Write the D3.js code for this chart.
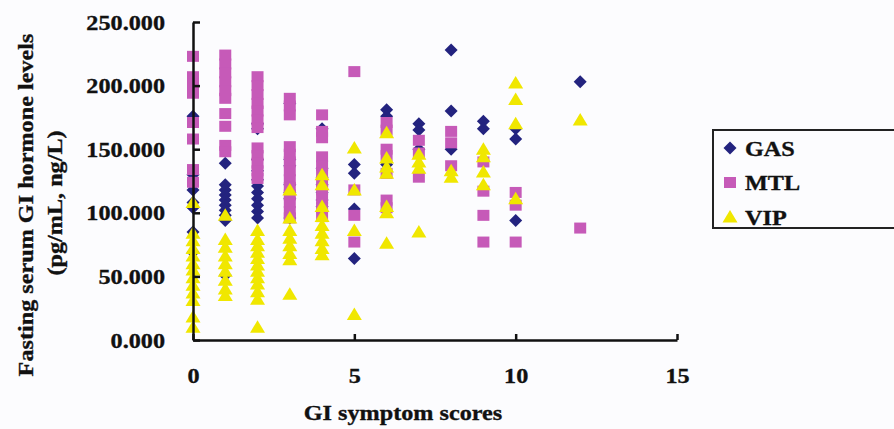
<!DOCTYPE html>
<html>
<head>
<meta charset="utf-8">
<script src="https://cdn.jsdelivr.net/npm/d3@7"></script>
<style>
    body { margin: 0; background: #fcfcfe; }
    text { font-family: "Liberation Serif", "Times New Roman", serif; font-weight: bold; fill: #111; stroke: #111; stroke-width: 0.35px; }
</style>
</head>
<body>
<div id="chart"></div>
<script>
// score / value pairs
let gasData = [
    [0, 176], [0, 130], [0, 118], [0, 108], [0, 104], [0, 85], [0, 69],
    [1, 139], [1, 122], [1, 118], [1, 114], [1, 110], [1, 106], [1, 102], [1, 98], [1, 94], [1, 51],
    [2, 170], [2, 166], [2, 142], [2, 133], [2, 126], [2, 121], [2, 116], [2, 111], [2, 106], [2, 101], [2, 96],
    [3, 186], [3, 142], [3, 137], [3, 122], [3, 116], [3, 111], [3, 96],
    [4, 166], [4, 135], [4, 128], [4, 122], [4, 116], [4, 110], [4, 105],
    [5, 138], [5, 131], [5, 103], [5, 64],
    [6, 181], [6, 176], [6, 138],
    [7, 170], [7, 165], [7, 150],
    [8, 228], [8, 180], [8, 150],
    [9, 172], [9, 166],
    [10, 166], [10, 158], [10, 94],
    [12, 203]
];

let mtlData = [
    [0, 223], [0, 207], [0, 201], [0, 194], [0, 171], [0, 158], [0, 134], [0, 124],
    [1, 224], [1, 217], [1, 210], [1, 203], [1, 196], [1, 190], [1, 178], [1, 168], [1, 153], [1, 148],
    [2, 207], [2, 200], [2, 193], [2, 186], [2, 180], [2, 173], [2, 167], [2, 151], [2, 145], [2, 139], [2, 133], [2, 127],
    [3, 190], [3, 184], [3, 177], [3, 152], [3, 146], [3, 140], [3, 133], [3, 126], [3, 120], [3, 114], [3, 108], [3, 101], [3, 96],
    [4, 177], [4, 164], [4, 159], [4, 144], [4, 137], [4, 131], [4, 124], [4, 118], [4, 111], [4, 104], [4, 97],
    [5, 211], [5, 118], [5, 98], [5, 77],
    [6, 171], [6, 165], [6, 150], [6, 145], [6, 131], [6, 110], [6, 104],
    [7, 157], [7, 147], [7, 128],
    [8, 164], [8, 155], [8, 137],
    [9, 140], [9, 117], [9, 98], [9, 77],
    [10, 116], [10, 106], [10, 77],
    [12, 88]
];

let vipData = [
    [0, 108], [0, 84], [0, 78], [0, 72], [0, 66], [0, 60], [0, 55], [0, 49], [0, 43], [0, 37], [0, 31], [0, 18], [0, 10],
    [1, 98], [1, 79], [1, 73], [1, 66], [1, 60], [1, 54], [1, 47], [1, 40], [1, 35],
    [2, 86], [2, 79], [2, 74], [2, 69], [2, 64], [2, 59], [2, 54], [2, 49], [2, 44], [2, 38], [2, 32], [2, 10],
    [3, 118], [3, 96], [3, 86], [3, 80], [3, 74], [3, 68], [3, 63], [3, 36],
    [4, 130], [4, 122], [4, 105], [4, 97], [4, 90], [4, 84], [4, 78], [4, 72], [4, 67],
    [5, 151], [5, 118], [5, 86], [5, 20],
    [6, 163], [6, 143], [6, 136], [6, 131], [6, 105], [6, 100], [6, 76],
    [7, 146], [7, 140], [7, 135], [7, 85],
    [8, 133], [8, 128],
    [9, 150], [9, 144], [9, 132], [9, 122],
    [10, 202], [10, 189], [10, 170], [10, 111],
    [12, 173]
];

let xTicks = [0, 5, 10, 15];
let yTicks = [0, 50, 100, 150, 200, 250];
let seriesNames = ["GAS", "MTL", "VIP"];

let colors = {GAS: "#23237f", MTL: "#c65ab8", VIP: "#f0e700"};

let width = 894, height = 429;

let svg = d3.select("#chart").append("svg")
    .attr("width", width)
    .attr("height", height);

let xScale = d3.scaleLinear().domain([0, 15]).range([193, 677]);
let yScale = d3.scaleLinear().domain([0, 250]).range([340, 22]);

// marker shapes
function markerPath(name) {
    if (name === "GAS") return "M0,-6.5L6.5,0L0,6.5L-6.5,0Z";
    if (name === "MTL") return "M-6,-5.5L6,-5.5L6,5.5L-6,5.5Z";
    return "M0,-7L7.5,5.5L-7.5,5.5Z";
}

let allSeries = [["GAS", gasData], ["MTL", mtlData], ["VIP", vipData]];

allSeries.forEach(([name, data]) => {
    svg.append("g")
        .attr("class", "series-" + name)
        .selectAll("path")
        .data(data)
        .enter()
        .append("path")
        .attr("d", markerPath(name))
        .attr("transform", d => `translate(${xScale(d[0])}, ${yScale(d[1])})`)
        .style("fill", colors[name]);
});

// axes
let yAxis = d3.axisLeft(yScale)
    .tickValues(yTicks)
    .tickFormat(d3.format(".3f"))
    .tickSizeInner(-7)
    .tickSizeOuter(0)
    .tickPadding(28);

let xAxis = d3.axisBottom(xScale)
    .tickValues(xTicks)
    .tickSizeInner(-6)
    .tickSizeOuter(0)
    .tickPadding(27);

let yAxisGroup = svg.append("g")
    .attr("transform", `translate(${xScale(0)}, 0)`)
    .call(yAxis);

let xAxisGroup = svg.append("g")
    .attr("transform", `translate(0, ${yScale(0)})`)
    .call(xAxis);

[yAxisGroup, xAxisGroup].forEach(g => {
    g.select(".domain").attr("stroke", "#111").attr("stroke-width", 2.5);
    g.selectAll(".tick line").attr("stroke", "#111").attr("stroke-width", 2.5);
    g.selectAll("text")
        .style("font-family", '"Liberation Serif", "Times New Roman", serif')
        .style("font-weight", "bold")
        .style("font-size", "22px")
        .attr("fill", "#111");
});

// axis titles
svg.append("text")
    .attr("class", "x-title")
    .attr("x", 403)
    .attr("y", 420)
    .attr("text-anchor", "middle")
    .style("font-size", "22px")
    .text("GI symptom scores");

svg.append("text")
    .attr("class", "y-title")
    .attr("transform", "translate(33, 205) rotate(-90)")
    .attr("text-anchor", "middle")
    .style("font-size", "22px")
    .text("Fasting serum GI hormone levels");

svg.append("text")
    .attr("class", "y-title")
    .attr("transform", "translate(62, 203) rotate(-90)")
    .attr("text-anchor", "middle")
    .style("font-size", "22px")
    .text("(pg/mL, ng/L)");

// legend
let legend = svg.append("g")
    .attr("transform", "translate(713, 130)");

legend.append("rect")
    .attr("width", 200)
    .attr("height", 98)
    .attr("fill", "none")
    .attr("stroke", "#222")
    .attr("stroke-width", 2);

let legendItems = legend.selectAll(".legend-item")
    .data(seriesNames)
    .enter()
    .append("g")
    .attr("class", "legend-item")
    .attr("transform", (d, i) => `translate(17, ${18 + i * 34.5})`);

legendItems.append("path")
    .attr("d", d => markerPath(d))
    .style("fill", d => colors[d]);

legendItems.append("text")
    .attr("x", 15)
    .attr("dy", "0.35em")
    .style("font-size", "22px")
    .text(d => d);

// the figure's lettering is a bit wider than Times, stretch it
svg.selectAll("text").each(function () {
    let len = this.getComputedTextLength();
    d3.select(this)
        .attr("textLength", len * 1.1)
        .attr("lengthAdjust", "spacingAndGlyphs");
});
</script>
</body>
</html>
